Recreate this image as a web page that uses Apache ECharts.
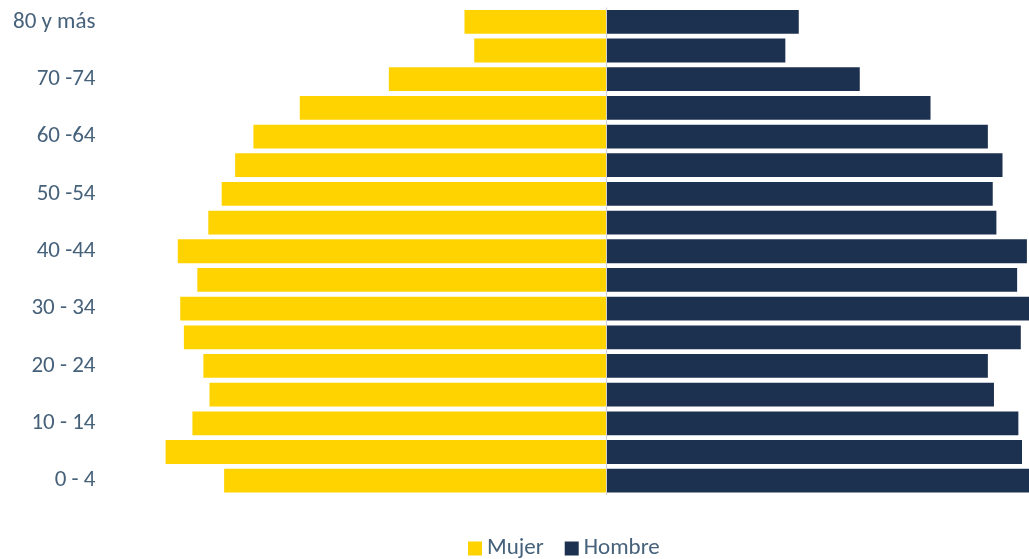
<!DOCTYPE html>
<html>
<head>
<meta charset="utf-8">
<style>
  html, body { margin: 0; padding: 0; background: #fff; }
  #chart { width: 1029px; height: 559px; }
</style>
<script src="https://cdn.jsdelivr.net/npm/echarts@6/dist/echarts.min.js"></script>
</head>
<body>
<div id="chart"></div>
<script>
// grupos de edad, de abajo hacia arriba
const ageGroups = ['0 - 4', '5 - 9', '10 - 14', '15 - 19', '20 - 24', '25 - 29', '30 - 34', '35 - 39',
    '40 -44', '45 -49', '50 -54', '55 -59', '60 -64', '65 -69', '70 -74', '75 -79', '80 y más']
// porcentaje de la población
const mujer = [3.13, 3.61, 3.39, 3.25, 3.30, 3.46, 3.49, 3.35, 3.51, 3.26, 3.15, 3.04, 2.89, 2.51, 1.78, 1.08, 1.16]
const hombre = [3.55, 3.41, 3.38, 3.18, 3.13, 3.40, 3.55, 3.37, 3.45, 3.20, 3.17, 3.25, 3.13, 2.66, 2.08, 1.47, 1.58]

const textColor = '#46617a'
const font = 'Carlito, Lato, sans-serif'

const chart = echarts.init(document.getElementById('chart'))
const option = {
    animation: false,
    grid: {
        left: 148.5,
        width: 915,
        top: 7.5,
        bottom: 64,
        outerBoundsMode: 'none'
    },
    legend: {
        data: ['Mujer', 'Hombre'],
        left: 463,
        top: 532,
        itemWidth: 14,
        itemHeight: 14,
        itemGap: 21,
        icon: 'rect',
        textStyle: { color: textColor, fontSize: 23, fontFamily: font }
    },
    xAxis: {
        type: 'value',
        min: -3.75,
        max: 3.75,
        show: false
    },
    yAxis: {
        type: 'category',
        data: ageGroups,
        axisLine: { show: false },
        axisTick: { show: false },
        axisLabel: {
            interval: 1,
            margin: 53,
            color: textColor,
            fontSize: 23,
            fontFamily: font
        }
    },
    series: [
        {
            name: 'Mujer',
            type: 'bar',
            stack: 'total',
            barCategoryGap: '17%',
            itemStyle: { color: '#FED300' },
            data: mujer.map(v => -v),
            markLine: {
                silent: true,
                symbol: 'none',
                label: { show: false },
                lineStyle: { color: '#d3d3d3', type: 'solid', width: 1 },
                data: [{ xAxis: 0 }]
            }
        },
        {
            name: 'Hombre',
            type: 'bar',
            stack: 'total',
            barCategoryGap: '17%',
            itemStyle: { color: '#1C3050' },
            data: hombre
        }
    ]
}
chart.setOption(option)
</script>
</body>
</html>
